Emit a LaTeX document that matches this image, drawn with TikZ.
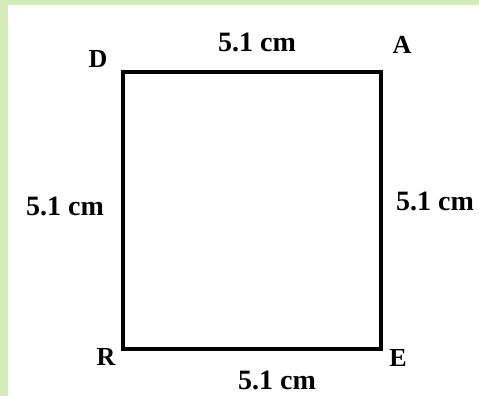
\documentclass[tikz,border=0pt]{standalone}
\usepackage{fontspec}
\setmainfont{Liberation Serif}
\definecolor{framegreen}{RGB}{213,235,183}
\begin{document}
\begin{tikzpicture}[x=1pt, y=-1pt,
    vertex/.style={font=\fontsize{26}{28}\selectfont\bfseries, inner sep=0pt},
    length/.style={font=\fontsize{28}{30}\selectfont\bfseries, inner sep=0pt}]
    % 枠
    \useasboundingbox (0,0) rectangle (479,396);
    \fill[framegreen] (0,0) rectangle (479,396);
    \fill[white] (8,5) rectangle (479,396);
    
    % 頂点
    \coordinate (d) at (123,72);
    \coordinate (a) at (381,72);
    \coordinate (e) at (381,349);
    \coordinate (r) at (123,349);
    
    % 正方形
    \draw[line width=3.2pt] (d) -- (a) -- (e) -- (r) -- cycle;
    
    % 頂点の名前
    \node[vertex] (labD) at (98,59) {D};
    \node[vertex] (labA) at (402,45) {A};
    \node[vertex] (labR) at (106,357) {R};
    \node[vertex] (labE) at (398,358) {E};
    
    % 辺の長さ
    \node[length] (top) at (257,42) {5.1 cm};
    \node[length] (left) at (65,206) {5.1 cm};
    \node[length] (right) at (435,201) {5.1 cm};
    \node[length] (bottom) at (277,380) {5.1 cm};
\end{tikzpicture}
\end{document}
